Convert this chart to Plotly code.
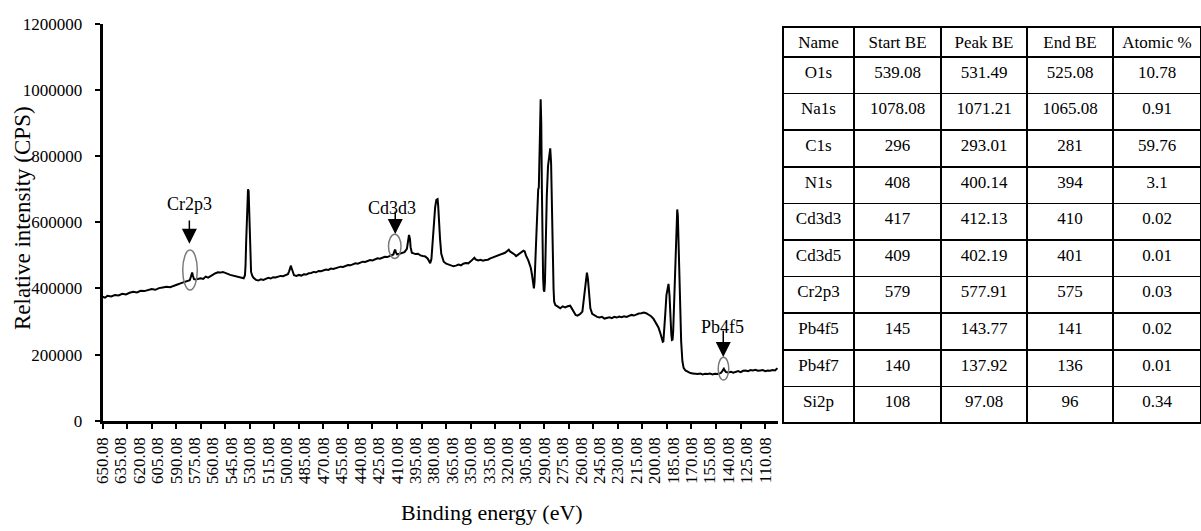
import plotly.graph_objects as go

# ---- XPS survey spectrum (binding energy in eV, intensity in thousands of CPS) ----
be_ev = [
    650.08, 648, 646, 643, 640, 637, 634, 631, 628, 625,
    622, 619, 616, 613, 610, 607, 604, 601, 598, 595,
    592, 589, 586, 583, 581, 579, 578, 577.5, 577, 576.5,
    575.5, 574, 572, 570, 568, 566, 564, 562, 560, 558,
    556, 554, 552, 550, 548, 546, 544, 542, 540, 538,
    536, 535, 534, 533.5, 533, 532.5, 532, 531.5, 531, 530.5,
    530, 529.5, 529, 528, 527, 525, 523, 521, 519, 517,
    515, 513, 511, 509, 507, 505, 503, 501, 499, 498,
    497, 496.5, 496, 495, 494, 492, 490, 488, 486, 484,
    482, 480, 478, 476, 474, 472, 470, 468, 466, 464,
    462, 460, 458, 456, 454, 452, 450, 448, 446, 444,
    442, 440, 438, 436, 434, 432, 430, 428, 426, 424,
    422, 420, 418, 416, 414, 413, 412, 411.5, 411, 410,
    408, 406, 404, 402, 401, 400.3, 399.5, 399, 398, 397,
    395, 393, 391, 389, 387, 385, 384, 383, 382, 381,
    380, 379, 378, 377, 376.5, 376, 375, 374, 373, 372,
    370, 368, 366, 364, 362, 360, 358, 356, 354, 352,
    350, 348, 347, 346, 344, 342, 340, 338, 336, 334,
    332, 330, 328, 326, 324, 322, 320, 319, 318, 316,
    314, 313, 311, 309, 307, 306, 305, 303, 301, 300,
    299, 298.5, 298, 297, 296, 295.5, 295, 294.5, 294, 293.5,
    293, 292.5, 292, 291.5, 291, 290.5, 290, 289.5, 289, 288,
    287, 286, 285.2, 284.5, 284, 283, 282.5, 282, 281, 279,
    277, 275, 273, 271, 269, 268, 266, 264.5, 263, 261,
    259, 258, 257, 256, 255.3, 254.5, 253.5, 252.5, 251, 249,
    247, 245, 243, 241, 239, 237, 235, 233, 231, 229,
    227, 225, 223, 221, 219, 217, 215, 213, 211, 209,
    207, 205, 203, 201, 199, 197, 195.5, 194.5, 193.5, 193,
    192.5, 191.5, 190.5, 189.5, 188.8, 188, 187.3, 186.5, 186, 185.5,
    185, 184, 183, 182.2, 181.7, 181.2, 180.5, 179.5, 178.5, 177.5,
    176.5, 175, 173, 171, 169, 167, 165, 163, 161, 159,
    157, 155, 153, 151, 149, 147, 146, 145, 144.3, 143.7,
    143, 142, 140, 138, 136, 134, 132, 130, 128, 126,
    124, 122, 120, 118, 116, 114, 112, 110, 108, 106,
    104, 102, 101, 100.08,
]
intensity_kcps = [
    375, 372, 378, 376, 380, 379, 384, 382, 387, 390,
    388, 393, 392, 396, 398, 396, 401, 403, 405, 404,
    409, 412, 416, 420, 423, 425, 436, 446, 448, 440,
    428, 427, 430, 431, 429, 436, 433, 438, 442, 446,
    449, 448, 450, 446, 444, 441, 439, 437, 435, 432,
    430, 431, 440, 470, 540, 620, 680, 700, 695, 640,
    560, 490, 450, 438, 432, 426, 424, 428, 426, 429,
    432, 430, 434, 433, 436, 438, 437, 441, 443, 452,
    466, 469, 462, 448, 440, 438, 441, 439, 443, 442,
    446, 447, 450, 449, 453, 452, 455, 457, 456, 460,
    459, 462, 464, 466, 465, 469, 471, 470, 474, 476,
    475, 479, 481, 480, 484, 486, 485, 489, 491, 490,
    494, 496, 495, 499, 501, 503, 515, 517, 509, 503,
    505, 507, 510, 520, 540, 562, 550, 525, 508, 506,
    504, 505, 500, 498, 497, 490, 480, 476, 490, 540,
    600, 645, 668, 670, 650, 610, 550, 505, 488, 481,
    475, 472, 470, 467, 469, 472, 470, 475, 477, 476,
    482, 490, 493, 488, 485, 487, 484, 486, 487, 491,
    494, 497, 499, 502, 505, 508, 514, 517, 512, 508,
    502, 498, 504, 509, 514, 512, 500, 484, 462, 440,
    410, 400, 420, 520, 640, 690, 700, 705, 760, 880,
    972, 900, 700, 520, 430, 395, 390, 420, 520, 680,
    770, 810, 824, 780, 650, 480, 400, 360, 350, 345,
    340, 346, 343, 346, 348, 342, 328, 320, 318, 322,
    330, 360, 400, 435, 448, 430, 380, 340, 323, 318,
    314, 312, 314, 309, 311, 313, 310, 314, 312, 315,
    313, 316, 314, 317, 320, 318, 322, 324, 325, 327,
    325, 321, 316, 308, 294, 282, 265, 250, 239, 240,
    260, 320, 380, 410, 414, 380, 310, 260, 244, 245,
    270, 380, 520, 610, 639, 620, 520, 360, 240, 180,
    160, 152, 147, 144, 143, 142, 141, 143, 140, 142,
    141, 143, 140, 142, 141, 143, 145, 150, 156, 157,
    152, 147, 146, 148, 145, 148, 150, 147, 151, 152,
    150, 153, 152, 154, 151, 152, 153, 150, 152, 151,
    153, 152, 155, 159,
]
intensity_cps = [v * 1000 for v in intensity_kcps]

# ---- axis ticks ----
x_label_values = [650.08, 635.08, 620.08, 605.08, 590.08, 575.08, 560.08, 545.08,
                  530.08, 515.08, 500.08, 485.08, 470.08, 455.08, 440.08, 425.08,
                  410.08, 395.08, 380.08, 365.08, 350.08, 335.08, 320.08, 305.08,
                  290.08, 275.08, 260.08, 245.08, 230.08, 215.08, 200.08, 185.08,
                  170.08, 155.08, 140.08, 125.08, 110.08]
x_label_text = [f"{v:.2f}" for v in x_label_values]
x_tick_marks = [650.08, 630.08, 610.08, 590.08, 570.08, 550.08, 530.08, 510.08,
                490.08, 470.08, 450.08, 430.08, 410.08, 390.08, 370.08, 350.08,
                330.08, 310.08, 290.08, 270.08, 250.08, 230.08, 210.08, 190.08,
                170.08, 150.08, 130.08, 110.08]
y_tick_values = [0, 200000, 400000, 600000, 800000, 1000000, 1200000]

# ---- peak table ----
table_header = ["Name", "Start BE", "Peak BE", "End BE", "Atomic\u00a0%"]
peak_names = ["O1s", "Na1s", "C1s", "N1s", "Cd3d3", "Cd3d5", "Cr2p3", "Pb4f5", "Pb4f7", "Si2p"]
start_be = [539.08, 1078.08, 296, 408, 417, 409, 579, 145, 140, 108]
peak_be = [531.49, 1071.21, 293.01, 400.14, 412.13, 402.19, 577.91, 143.77, 137.92, 97.08]
end_be = [525.08, 1065.08, 281, 394, 410, 401, 575, 141, 136, 96]
atomic_pct = [10.78, 0.91, 59.76, 3.1, 0.02, 0.01, 0.03, 0.02, 0.01, 0.34]

# ---- marked peaks: label, label position, arrow tail/head, ellipse box ----
marked_labels = ["Cr2p3", "Cd3d3", "Pb4f5"]
marked_label_be = [579.3, 414.0, 144.8]
marked_label_cps = [655000, 643000, 284000]
marked_arrow_be = [579.3, 411.5, 144.2]
marked_arrow_tail = [610000, 637000, 277000]
marked_arrow_head = [535000, 565000, 193000]
ellipse_be = [(584.7, 572.8), (417.0, 406.8), (148.3, 139.7)]
ellipse_cps = [(395000, 516000), (491000, 564000), (123000, 192000)]

FONT = "Liberation Serif, Times New Roman, serif"
W, H = 1201, 531

fig = go.Figure()

fig.add_trace(go.Scatter(
    x=be_ev, y=intensity_cps, mode="lines",
    line=dict(color="black", width=2),
    showlegend=False, hoverinfo="skip",
    xaxis="x", yaxis="y",
))

fig.add_trace(go.Table(
    domain=dict(x=[783 / W, 1.0], y=[1 - 426 / H, 1 - 27 / H]),
    columnwidth=[71, 87, 86, 86, 88],
    header=dict(
        values=table_header, height=30, align="center",
        fill_color="white", line=dict(color="black", width=1.5),
        font=dict(family=FONT, size=17, color="black"),
    ),
    cells=dict(
        values=[peak_names, start_be, peak_be, end_be, atomic_pct],
        height=36.6, align="center",
        fill_color="white", line=dict(color="black", width=1.5),
        font=dict(family=FONT, size=17, color="black"),
    ),
))

shapes = []
for (bx0, bx1), (cy0, cy1) in zip(ellipse_be, ellipse_cps):
    shapes.append(dict(type="circle", xref="x", yref="y",
                       x0=bx0, x1=bx1, y0=cy0, y1=cy1,
                       line=dict(color="#7a7a7a", width=1.5)))

annotations = []
for lab, lx, ly in zip(marked_labels, marked_label_be, marked_label_cps):
    annotations.append(dict(x=lx, y=ly, xref="x", yref="y", text=lab,
                            showarrow=False, xanchor="center", yanchor="middle",
                            font=dict(family=FONT, size=18, color="black")))
for ax_, tail, head in zip(marked_arrow_be, marked_arrow_tail, marked_arrow_head):
    annotations.append(dict(x=ax_, y=head, ax=ax_, ay=tail, xref="x", yref="y",
                            axref="x", ayref="y", text="", showarrow=True,
                            arrowhead=2, arrowsize=2, arrowwidth=1.5,
                            arrowcolor="black", standoff=0, startstandoff=0))

annotations.append(dict(x=492 / W, y=1 - 512 / H, xref="paper", yref="paper",
                        text="Binding energy (eV)", showarrow=False,
                        xanchor="center", yanchor="middle",
                        font=dict(family=FONT, size=22, color="black")))
annotations.append(dict(x=22 / W, y=1 - 218 / H, xref="paper", yref="paper",
                        text="Relative intensity (CPS)", showarrow=False,
                        textangle=-90, xanchor="center", yanchor="middle",
                        font=dict(family=FONT, size=23, color="black")))

fig.update_layout(
    width=W, height=H,
    margin=dict(l=0, r=0, t=0, b=0, pad=0),
    paper_bgcolor="white", plot_bgcolor="white",
    showlegend=False,
    shapes=shapes, annotations=annotations,
    xaxis=dict(
        domain=[102.5 / W, 778 / W],
        range=[650.08, 99.58],
        tickmode="array", tickvals=x_label_values, ticktext=x_label_text,
        tickangle=-90, ticks="", ticklabelstandoff=7,
        tickfont=dict(family=FONT, size=17, color="black"),
        minor=dict(tickmode="array", tickvals=x_tick_marks, ticks="outside",
                   ticklen=6, tickwidth=2, tickcolor="black", showgrid=False),
        showline=True, linecolor="black", linewidth=2.5,
        showgrid=False, zeroline=False, automargin=False,
        anchor="y",
    ),
    yaxis=dict(
        domain=[1 - 420.7 / H, 1 - 24 / H],
        range=[0, 1200000],
        tickmode="array", tickvals=y_tick_values, tickformat="d",
        ticks="outside", ticklen=5, tickwidth=2, tickcolor="black",
        ticklabelstandoff=9,
        tickfont=dict(family=FONT, size=17, color="black"),
        showline=True, linecolor="black", linewidth=2.5,
        showgrid=False, zeroline=False, automargin=False,
        anchor="x",
    ),
)

fig.write_html("out.html")
